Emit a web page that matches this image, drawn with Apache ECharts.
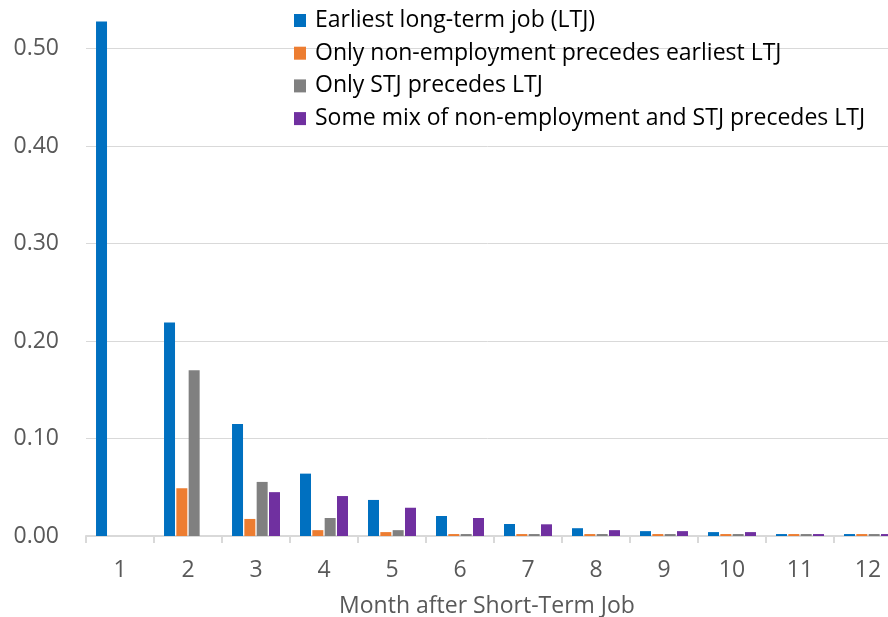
<!DOCTYPE html>
<html>
<head>
<meta charset="utf-8">
<script src="https://cdn.jsdelivr.net/npm/echarts@6/dist/echarts.min.js"></script>
<style>
  html, body { margin: 0; padding: 0; background: #fff; }
  #chart { width: 888px; height: 617px; }
</style>
</head>
<body>
<div id="chart"></div>
<script>
// Month after the short-term job
const months = ['1', '2', '3', '4', '5', '6', '7', '8', '9', '10', '11', '12'];

// Share of workers
const earliestLTJ = [0.528, 0.219, 0.115, 0.064, 0.037, 0.0205, 0.0123, 0.008, 0.005, 0.004, 0.002, 0.002];
const onlyNonEmp = [0, 0.049, 0.0175, 0.006, 0.004, 0.002, 0.002, 0.002, 0.002, 0.002, 0.002, 0.002];
const onlySTJ = [0, 0.170, 0.0555, 0.0185, 0.006, 0.002, 0.002, 0.002, 0.002, 0.002, 0.002, 0.002];
const someMix = [0, 0, 0.045, 0.041, 0.029, 0.0185, 0.012, 0.006, 0.005, 0.004, 0.002, 0.002];

const seriesNames = [
  'Earliest long-term job (LTJ)',
  'Only non-employment precedes earliest LTJ',
  'Only STJ precedes LTJ',
  'Some mix of non-employment and STJ precedes LTJ',
];
const seriesColors = ['#0070C0', '#ED7D31', '#808080', '#7030A0'];
const seriesData = [earliestLTJ, onlyNonEmp, onlySTJ, someMix];

const font = '"Open Sans", Lato, sans-serif';
const chart = echarts.init(document.getElementById('chart'));

chart.setOption({
  animation: false,
  grid: {
    left: 86,
    right: -14,
    top: 0,
    bottom: 81,
    containLabel: false,
    outerBoundsMode: 'none',
  },
  legend: {
    orient: 'vertical',
    left: 289,
    top: 4,
    itemWidth: 12,
    itemHeight: 13,
    itemGap: 9.7,
    icon: 'rect',
    textStyle: { fontFamily: font, fontSize: 23, color: '#000', padding: [0, 0, 0, 4] },
    data: seriesNames,
  },
  xAxis: {
    type: 'category',
    data: months,
    name: 'Month after Short-Term Job',
    nameLocation: 'middle',
    nameGap: 59,
    nameTextStyle: { fontFamily: font, fontSize: 23, color: '#595959', padding: [0, 14, 0, 0] },
    axisLine: { lineStyle: { color: '#D9D9D9', width: 2 } },
    axisTick: { show: true, length: 7, lineStyle: { color: '#D9D9D9', width: 2 } },
    axisLabel: { fontFamily: font, fontSize: 23, color: '#595959', margin: 23 },
  },
  yAxis: {
    type: 'value',
    min: 0,
    max: 0.55,
    interval: 0.1,
    axisLine: { show: false },
    axisTick: { show: false },
    splitLine: { showMaxLine: false, lineStyle: { color: '#D9D9D9', width: 1 } },
    axisLabel: {
      fontFamily: font,
      fontSize: 23,
      color: '#595959',
      margin: 27,
      showMaxLabel: false,
      formatter: (v) => v.toFixed(2),
    },
  },
  series: seriesData.map((data, i) => ({
    name: seriesNames[i],
    type: 'bar',
    data,
    barWidth: 11,
    barGap: '12%',
    itemStyle: { color: seriesColors[i] },
  })),
});
</script>
</body>
</html>
